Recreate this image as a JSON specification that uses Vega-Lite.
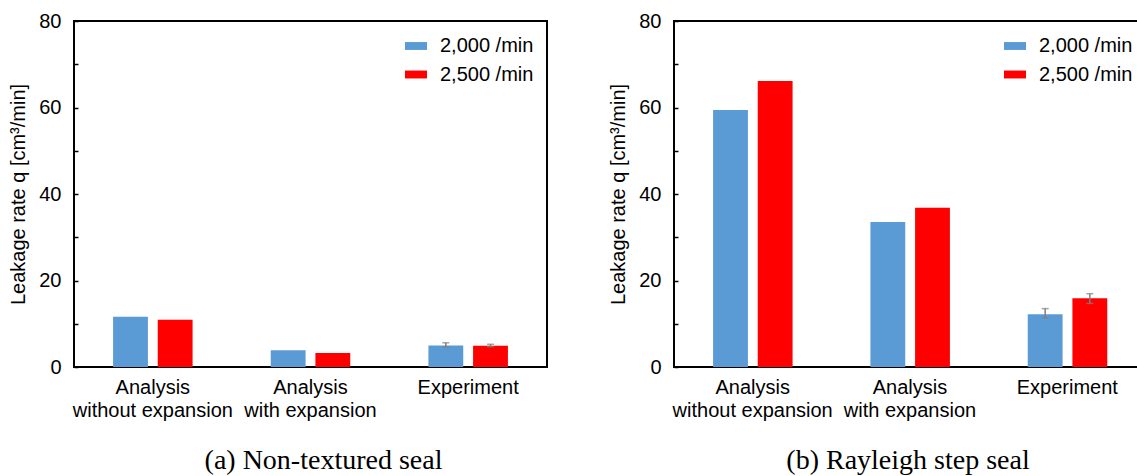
{
  "$schema": "https://vega.github.io/schema/vega-lite/v6.json",
  "padding": {"left": 7, "top": 10, "right": 0, "bottom": 0},
  "background": "white",
  "bounds": "flush",
  "spacing": 127,
  "config": {
    "font": "Liberation Sans",
    "view": {"stroke": "black", "strokeWidth": 2},
    "axis": {"labelColor": "black", "titleColor": "black", "labelFontSize": 20, "titleFontSize": 20, "titleFontWeight": "normal", "grid": false, "domain": false, "labelFont": "Liberation Sans", "titleFont": "Liberation Sans"},
    "legend": {"labelFontSize": 20, "labelColor": "black", "labelFont": "Liberation Sans"},
    "title": {"font": "Liberation Serif", "fontSize": 28, "fontWeight": "normal", "color": "black"}
  },
  "datasets": {
    "a": [
      {"method": "Analysis without expansion", "speed": "2,000 /min", "q": 11.6},
      {"method": "Analysis without expansion", "speed": "2,500 /min", "q": 10.9},
      {"method": "Analysis with expansion", "speed": "2,000 /min", "q": 3.9},
      {"method": "Analysis with expansion", "speed": "2,500 /min", "q": 3.25},
      {"method": "Experiment", "speed": "2,000 /min", "q": 5.0, "lo": 4.6, "hi": 5.6},
      {"method": "Experiment", "speed": "2,500 /min", "q": 4.9, "lo": 4.7, "hi": 5.25}
    ],
    "b": [
      {"method": "Analysis without expansion", "speed": "2,000 /min", "q": 59.4},
      {"method": "Analysis without expansion", "speed": "2,500 /min", "q": 66.1},
      {"method": "Analysis with expansion", "speed": "2,000 /min", "q": 33.5},
      {"method": "Analysis with expansion", "speed": "2,500 /min", "q": 36.8},
      {"method": "Experiment", "speed": "2,000 /min", "q": 12.2, "lo": 11.4, "hi": 13.5},
      {"method": "Experiment", "speed": "2,500 /min", "q": 15.9, "lo": 14.7, "hi": 16.95}
    ]
  },
  "resolve": {"scale": {"color": "independent", "y": "independent", "x": "independent"}, "legend": {"color": "independent"}},
  "hconcat": [
    {
      "width": 473, "height": 346,
      "data": {"name": "a"},
      "title": {"text": "(a) Non-textured seal", "orient": "bottom", "anchor": "middle", "offset": 26, "dx": 13},
      "encoding": {
        "x": {"field": "method", "type": "nominal", "sort": ["Analysis without expansion", "Analysis with expansion", "Experiment"], "title": null,
          "scale": {"paddingInner": 0, "paddingOuter": 0},
          "axis": {"labelAngle": 0, "ticks": false, "labelPadding": 10, "labelLineHeight": 23.5, "labelBaseline": "top",
            "labelExpr": "datum.value == 'Analysis without expansion' ? ['Analysis', 'without expansion'] : datum.value == 'Analysis with expansion' ? ['Analysis', 'with expansion'] : datum.value"}},
        "xOffset": {"field": "speed", "type": "nominal", "scale": {"paddingInner": 0.22, "paddingOuter": 0.875}}
      },
      "layer": [
        {
          "mark": {"type": "bar"},
          "encoding": {
            "y": {"field": "q", "type": "quantitative", "scale": {"domain": [0, 80]},
              "axis": {"title": "Leakage rate q [cm³/min]", "values": [0, 10, 20, 30, 40, 50, 60, 70, 80], "labelExpr": "datum.value % 20 == 0 ? datum.label : ''", "tickSize": -4, "tickColor": "black", "tickWidth": 1.5, "labelPadding": 17, "titlePadding": 10}},
            "color": {"field": "speed", "type": "nominal", "scale": {"domain": ["2,000 /min", "2,500 /min"], "range": ["#5B9BD5", "#FF0000"]},
              "legend": {"title": null, "orient": "none", "legendX": 331, "legendY": 14, "symbolType": "M-1,-0.36L1,-0.36L1,0.36L-1,0.36Z", "symbolSize": 484, "symbolStrokeWidth": 0, "symbolOpacity": 1, "labelOffset": 13, "rowPadding": 7.5, "padding": 0}}
          }
        },
        {
          "transform": [{"filter": "isValid(datum.lo)"}],
          "mark": {"type": "rule", "color": "#7f7f7f", "strokeWidth": 1.5},
          "encoding": {"y": {"field": "lo", "type": "quantitative"}, "y2": {"field": "hi"}}
        },
        {
          "transform": [{"filter": "isValid(datum.lo)"}],
          "mark": {"type": "tick", "color": "#7f7f7f", "size": 7, "thickness": 1.5, "orient": "horizontal"},
          "encoding": {"y": {"field": "lo", "type": "quantitative"}}
        },
        {
          "transform": [{"filter": "isValid(datum.lo)"}],
          "mark": {"type": "tick", "color": "#7f7f7f", "size": 7, "thickness": 1.5, "orient": "horizontal"},
          "encoding": {"y": {"field": "hi", "type": "quantitative"}}
        }
      ]
    },
    {
      "width": 472, "height": 346,
      "data": {"name": "b"},
      "title": {"text": "(b) Rayleigh step seal", "orient": "bottom", "anchor": "middle", "offset": 26, "dx": -2},
      "encoding": {
        "x": {"field": "method", "type": "nominal", "sort": ["Analysis without expansion", "Analysis with expansion", "Experiment"], "title": null,
          "scale": {"paddingInner": 0, "paddingOuter": 0},
          "axis": {"labelAngle": 0, "ticks": false, "labelPadding": 10, "labelLineHeight": 23.5, "labelBaseline": "top",
            "labelExpr": "datum.value == 'Analysis without expansion' ? ['Analysis', 'without expansion'] : datum.value == 'Analysis with expansion' ? ['Analysis', 'with expansion'] : datum.value"}},
        "xOffset": {"field": "speed", "type": "nominal", "scale": {"paddingInner": 0.22, "paddingOuter": 0.875}}
      },
      "layer": [
        {
          "mark": {"type": "bar"},
          "encoding": {
            "y": {"field": "q", "type": "quantitative", "scale": {"domain": [0, 80]},
              "axis": {"title": "Leakage rate q [cm³/min]", "values": [0, 10, 20, 30, 40, 50, 60, 70, 80], "labelExpr": "datum.value % 20 == 0 ? datum.label : ''", "tickSize": -4, "tickColor": "black", "tickWidth": 1.5, "labelPadding": 17, "titlePadding": 10}},
            "color": {"field": "speed", "type": "nominal", "scale": {"domain": ["2,000 /min", "2,500 /min"], "range": ["#5B9BD5", "#FF0000"]},
              "legend": {"title": null, "orient": "none", "legendX": 330, "legendY": 14, "symbolType": "M-1,-0.36L1,-0.36L1,0.36L-1,0.36Z", "symbolSize": 484, "symbolStrokeWidth": 0, "symbolOpacity": 1, "labelOffset": 13, "rowPadding": 7.5, "padding": 0}}
          }
        },
        {
          "transform": [{"filter": "isValid(datum.lo)"}],
          "mark": {"type": "rule", "color": "#7f7f7f", "strokeWidth": 1.5},
          "encoding": {"y": {"field": "lo", "type": "quantitative"}, "y2": {"field": "hi"}}
        },
        {
          "transform": [{"filter": "isValid(datum.lo)"}],
          "mark": {"type": "tick", "color": "#7f7f7f", "size": 7, "thickness": 1.5, "orient": "horizontal"},
          "encoding": {"y": {"field": "lo", "type": "quantitative"}}
        },
        {
          "transform": [{"filter": "isValid(datum.lo)"}],
          "mark": {"type": "tick", "color": "#7f7f7f", "size": 7, "thickness": 1.5, "orient": "horizontal"},
          "encoding": {"y": {"field": "hi", "type": "quantitative"}}
        }
      ]
    }
  ]
}
